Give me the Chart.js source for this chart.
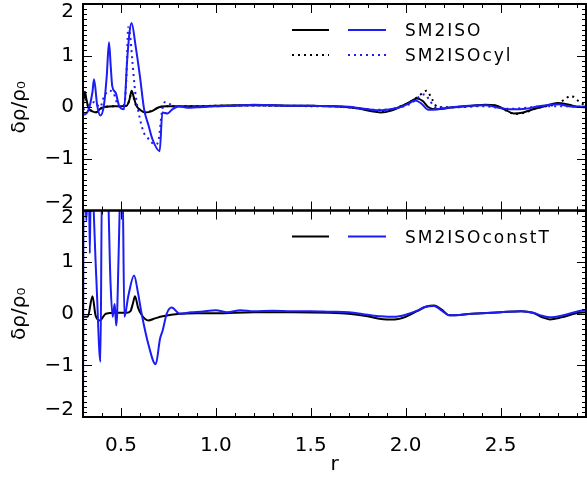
<!DOCTYPE html>
<html>
<head>
<meta charset="utf-8">
<script src="https://cdn.jsdelivr.net/npm/chart.js@4.4.1/dist/chart.umd.min.js"></script>
<style>
  html, body { margin: 0; padding: 0; background: #fff; }
</style>
</head>
<body>
<canvas id="densityChart" width="587" height="480"></canvas>
<script>
// upper panel: SM2ISO (solid) and SM2ISOcyl (dotted)
const rIsoBlack = [
  0.30, 0.305, 0.31, 0.318, 0.33, 0.35, 0.37, 0.39, 0.42, 0.46,
  0.50, 0.53, 0.545, 0.556, 0.567, 0.58, 0.60, 0.628, 0.66, 0.70,
  0.74, 0.80, 0.90, 1.00, 1.10, 1.20, 1.30, 1.40, 1.50, 1.60,
  1.70, 1.76, 1.82, 1.87, 1.92, 1.96, 2.00, 2.04, 2.06, 2.09,
  2.12, 2.16, 2.25, 2.35, 2.42, 2.47, 2.52, 2.57, 2.62, 2.68,
  2.74, 2.80, 2.86, 2.91, 2.95
];
const isoBlack = [
  0.05, 0.22, 0.30, 0.15, -0.02, -0.08, -0.10, -0.03, 0.01, 0.02,
  0.02, 0.03, 0.15, 0.32, 0.20, 0.04, -0.05, -0.10, -0.08, 0.00,
  0.02, 0.02, 0.02, 0.03, 0.04, 0.04, 0.04, 0.03, 0.03, 0.02,
  0.00, -0.03, -0.08, -0.10, -0.07, -0.01, 0.06, 0.14, 0.17, 0.12,
  0.00, -0.04, 0.00, 0.03, 0.05, 0.04, -0.04, -0.12, -0.10, -0.03,
  0.03, 0.08, 0.05, 0.01, 0.01
];
const rIsoBlue = [
  0.300, 0.305, 0.33, 0.35, 0.358, 0.375, 0.392, 0.41, 0.425, 0.437,
  0.446, 0.454, 0.472, 0.49, 0.516, 0.533, 0.545, 0.556, 0.577, 0.60,
  0.622, 0.645, 0.666, 0.704, 0.718, 0.745, 0.771, 0.807, 0.85, 0.90,
  1.00, 1.10, 1.20, 1.30, 1.40, 1.50, 1.60, 1.70, 1.76, 1.82,
  1.87, 1.92, 1.97, 2.01, 2.05, 2.08, 2.12, 2.20, 2.30, 2.42,
  2.49, 2.56, 2.63, 2.70, 2.76, 2.80, 2.86, 2.95
];
const isoBlue = [
  -0.10, -0.14, -0.04, 0.30, 0.54, 0.03, -0.16, 0.03, 0.60, 1.26,
  0.80, 0.41, 0.28, 0.03, -0.04, 0.93, 1.45, 1.63, 1.19, 0.60,
  -0.04, -0.35, -0.62, -0.85, -0.10, -0.12, -0.04, 0.02, -0.01, 0.00,
  0.02, 0.03, 0.05, 0.04, 0.03, 0.03, 0.02, 0.01, -0.02, -0.05,
  -0.06, -0.04, 0.00, 0.06, 0.13, 0.08, -0.05, -0.02, 0.02, 0.04,
  -0.01, -0.04, -0.03, 0.02, 0.05, 0.06, 0.02, 0.00
];
const rCylBlack = [
  0.30, 0.305, 0.31, 0.318, 0.33, 0.35, 0.37, 0.39, 0.42, 0.46,
  0.50, 0.53, 0.545, 0.556, 0.567, 0.58, 0.60, 0.628, 0.66, 0.70,
  0.74, 0.80, 0.90, 1.00, 1.10, 1.20, 1.30, 1.40, 1.50, 1.60,
  1.70, 1.76, 1.82, 1.87, 1.92, 1.96, 2.00, 2.04, 2.07, 2.11,
  2.14, 2.17, 2.25, 2.35, 2.42, 2.47, 2.52, 2.58, 2.63, 2.68,
  2.74, 2.80, 2.84, 2.87, 2.91, 2.95
];
const cylBlack = [
  0.05, 0.20, 0.28, 0.12, -0.02, -0.07, -0.09, -0.03, 0.01, 0.02,
  0.02, 0.03, 0.14, 0.30, 0.18, 0.03, -0.05, -0.09, -0.07, 0.00,
  0.02, 0.02, 0.02, 0.03, 0.03, 0.04, 0.03, 0.03, 0.02, 0.02,
  0.00, -0.02, -0.06, -0.08, -0.05, 0.00, 0.06, 0.14, 0.22, 0.32,
  0.15, 0.00, 0.00, 0.02, 0.04, 0.03, -0.05, -0.13, -0.10, -0.03,
  0.02, 0.06, 0.16, 0.22, 0.12, 0.02
];
const rCylBlue = [
  0.30, 0.33, 0.36, 0.39, 0.41, 0.437, 0.46, 0.48, 0.50, 0.52,
  0.53, 0.538, 0.548, 0.56, 0.575, 0.59, 0.62, 0.64, 0.66, 0.685,
  0.70, 0.715, 0.732, 0.75, 0.78, 0.85, 1.00, 1.20, 1.40, 1.60,
  1.75, 1.85, 1.95, 2.03, 2.07, 2.10, 2.13, 2.16, 2.25, 2.40,
  2.55, 2.70, 2.80, 2.95
];
const cylBlue = [
  -0.05, 0.02, 0.10, 0.00, 0.20, 0.32, 0.28, 0.08, 0.00, 0.10,
  0.70, 1.55, 1.40, 0.90, 0.30, -0.05, -0.49, -0.59, -0.68, -0.72,
  -0.60, -0.10, 0.10, 0.08, 0.02, 0.01, 0.02, 0.03, 0.03, 0.02,
  -0.02, -0.05, -0.02, 0.08, 0.20, 0.25, 0.11, 0.00, 0.00, 0.02,
  -0.03, 0.01, 0.02, 0.01
];

// lower panel: SM2ISOconstT
const rConstBlack = [
  0.30, 0.325, 0.35, 0.366, 0.389, 0.42, 0.47, 0.53, 0.55, 0.563,
  0.574, 0.59, 0.61, 0.644, 0.68, 0.72, 0.81, 0.90, 1.00, 1.20,
  1.40, 1.60, 1.70, 1.80, 1.87, 1.94, 2.00, 2.06, 2.11, 2.15,
  2.19, 2.23, 2.35, 2.50, 2.61, 2.67, 2.72, 2.76, 2.82, 2.90,
  2.95
];
const constBlack = [
  -0.06, -0.06, 0.34, -0.03, -0.13, 0.00, 0.02, 0.02, 0.05, 0.20,
  0.34, 0.12, -0.03, -0.13, -0.09, -0.05, 0.00, 0.01, 0.01, 0.03,
  0.03, 0.02, 0.00, -0.05, -0.10, -0.11, -0.06, 0.05, 0.14, 0.16,
  0.08, -0.03, 0.00, 0.03, 0.05, 0.02, -0.07, -0.11, -0.07, 0.01,
  0.03
];
const rConstBlue = [
  0.300, 0.303, 0.310, 0.318, 0.326, 0.331, 0.336, 0.341, 0.345, 0.370,
  0.392, 0.400, 0.428, 0.445, 0.456, 0.467, 0.475, 0.480, 0.486, 0.500,
  0.508, 0.518, 0.539, 0.569, 0.590, 0.609, 0.645, 0.683, 0.706, 0.720,
  0.741, 0.767, 0.810, 0.870, 0.92, 1.00, 1.06, 1.13, 1.20, 1.30,
  1.40, 1.50, 1.60, 1.70, 1.80, 1.87, 1.94, 2.00, 2.06, 2.10,
  2.15, 2.19, 2.23, 2.35, 2.50, 2.61, 2.67, 2.72, 2.76, 2.82,
  2.90, 2.95
];
const constBlue = [
  -2.30, 2.60, 2.40, 1.80, 2.60, 2.60, 1.17, 2.60, 2.60, 0.70,
  -0.93, 2.60, 2.60, 0.60, -0.06, 0.19, -0.23, 0.00, 0.90, 2.60,
  2.60, -0.06, 0.35, 0.74, 0.40, 0.00, -0.60, -0.98, -0.48, -0.32,
  0.00, 0.12, 0.00, 0.03, 0.04, 0.07, 0.03, 0.07, 0.05, 0.06,
  0.05, 0.05, 0.04, 0.03, -0.02, -0.05, -0.06, -0.02, 0.06, 0.13,
  0.15, 0.06, -0.03, 0.00, 0.03, 0.05, 0.02, -0.04, -0.07, -0.04,
  0.04, 0.07
];

const xTicks = [0.5, 1.0, 1.5, 2.0, 2.5];
const yTicks = [-2, -1, 0, 1, 2];
const legendTop = ['SM2ISO', 'SM2ISOcyl'];
const legendBottom = ['SM2ISOconstT'];

const BLUE = '#1c1cf5';
const FONT = 'DejaVu Sans';

function series(r, v) {
  return r.map((x, i) => ({ x: x, y: v[i] }));
}

function line(label, r, v, color, axis, dotted) {
  return {
    label: label,
    data: series(r, v),
    yAxisID: axis,
    borderColor: color,
    borderWidth: 2,
    borderDash: dotted ? [2, 4] : [],
    pointRadius: 0,
    cubicInterpolationMode: 'monotone',
    fill: false
  };
}

// end labels sit a little inside the panel, like the original
function yLabel(v) {
  if (!yTicks.includes(v)) return '';
  const s = v < 0 ? '\u2212' + Math.abs(v) : String(v);
  if (v === 2) return ['', s];
  if (v === -2) return [s, ''];
  return s;
}

function yAxis() {
  return {
    type: 'linear',
    position: 'left',
    stack: 'panels',
    stackWeight: 1,
    min: -2,
    max: 2,
    afterFit: s => { s.width = 83; s.paddingTop = 0; s.paddingBottom = 0; },
    afterBuildTicks: s => { s.ticks = yTicks.map(v => ({ value: v })); },
    grid: { display: false, drawTicks: false },
    border: { display: false },
    ticks: {
      autoSkip: false,
      padding: 9,
      color: '#000',
      font: { family: FONT, size: 20, lineHeight: 0.75 },
      callback: yLabel
    },
    title: {
      display: true,
      text: 'δρ/ρ₀',
      color: '#000',
      font: { family: FONT, size: 20 },
      padding: { top: 8, bottom: 0 }
    }
  };
}

// box round each panel with inward ticks on all four sides
const framePlugin = {
  id: 'frame',
  afterDatasetsDraw(chart) {
    const ctx = chart.ctx;
    const xs = chart.scales.x;
    ctx.save();
    ctx.strokeStyle = '#000';
    ['yTop', 'yBot'].forEach(id => {
      const ys = chart.scales[id];
      const l = xs.left, r = xs.right, t = ys.top, b = ys.bottom;
      ctx.lineWidth = 2;
      ctx.strokeRect(l, t, r - l, b - t);
      ctx.lineWidth = 1;
      ctx.beginPath();
      for (let i = 3; i <= 29; i++) {
        const px = Math.round(xs.getPixelForValue(i / 10)) + 0.5;
        const len = i % 5 === 0 ? 9 : 4;
        ctx.moveTo(px, b); ctx.lineTo(px, b - len);
        ctx.moveTo(px, t); ctx.lineTo(px, t + len);
      }
      for (let i = -20; i <= 20; i++) {
        const py = Math.round(ys.getPixelForValue(i / 10)) + 0.5;
        const len = i % 10 === 0 ? 9 : 4;
        ctx.moveTo(l, py); ctx.lineTo(l + len, py);
        ctx.moveTo(r, py); ctx.lineTo(r - len, py);
      }
      ctx.stroke();
    });
    ctx.restore();
  }
};

// legend with a black and a blue sample before each label
const legendPlugin = {
  id: 'pairLegend',
  afterDraw(chart) {
    const ctx = chart.ctx;
    const rows = [
      { axis: 'yTop', row: 0, dotted: false, text: legendTop[0] },
      { axis: 'yTop', row: 1, dotted: true, text: legendTop[1] },
      { axis: 'yBot', row: 0, dotted: false, text: legendBottom[0] }
    ];
    ctx.save();
    rows.forEach(item => {
      const y = chart.scales[item.axis].top + 26 + item.row * 25;
      ctx.lineWidth = 2;
      ctx.setLineDash(item.dotted ? [2, 4] : []);
      ctx.strokeStyle = '#000';
      ctx.beginPath(); ctx.moveTo(292, y); ctx.lineTo(329, y); ctx.stroke();
      ctx.strokeStyle = BLUE;
      ctx.beginPath(); ctx.moveTo(348, y); ctx.lineTo(386, y); ctx.stroke();
      ctx.setLineDash([]);
      ctx.fillStyle = '#000';
      ctx.font = '17px "' + FONT + '"';
      ctx.letterSpacing = '2px';
      ctx.textBaseline = 'alphabetic';
      ctx.fillText(item.text, 405, y + 6);
    });
    ctx.restore();
  }
};

new Chart(document.getElementById('densityChart'), {
  type: 'line',
  data: {
    datasets: [
      line('SM2ISO', rIsoBlue, isoBlue, BLUE, 'yTop', false),
      line('SM2ISOcyl', rCylBlue, cylBlue, BLUE, 'yTop', true),
      line('SM2ISO', rIsoBlack, isoBlack, '#000', 'yTop', false),
      line('SM2ISOcyl', rCylBlack, cylBlack, '#000', 'yTop', true),
      line('SM2ISOconstT', rConstBlue, constBlue, BLUE, 'yBot', false),
      line('SM2ISOconstT', rConstBlack, constBlack, '#000', 'yBot', false)
    ]
  },
  options: {
    responsive: false,
    animation: false,
    devicePixelRatio: 1,
    layout: { padding: { top: 4, right: 1, left: 0, bottom: 0 } },
    plugins: { legend: { display: false }, tooltip: { enabled: false } },
    scales: {
      x: {
        type: 'linear',
        min: 0.3,
        max: 2.95,
        afterFit: s => { s.height = 63; s.paddingLeft = 0; s.paddingRight = 0; },
        afterBuildTicks: s => { s.ticks = xTicks.map(v => ({ value: v })); },
        grid: { display: false, drawTicks: false },
        border: { display: false },
        ticks: {
          padding: 17,
          maxRotation: 0,
          autoSkip: false,
          color: '#000',
          font: { family: FONT, size: 20 },
          callback: v => v.toFixed(1)
        },
        title: {
          display: true,
          text: 'r',
          color: '#000',
          font: { family: FONT, size: 20 },
          padding: { top: 0, bottom: 3 }
        }
      },
      // left boxes are laid out in reverse, so the lower panel comes first
      yBot: yAxis(),
      yTop: yAxis()
    }
  },
  plugins: [framePlugin, legendPlugin]
});
</script>
</body>
</html>
